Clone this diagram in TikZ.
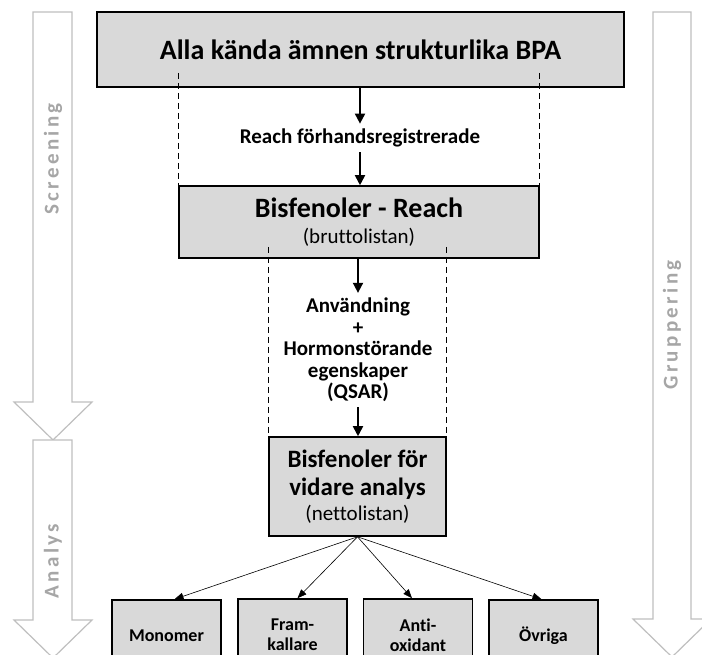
\documentclass[tikz,border=0pt]{standalone}
\usepackage{fontspec}
\setmainfont{Carlito}[Ligatures=NoCommon]
\newfontfamily\phasefont[LetterSpace=16]{Carlito}
\usepackage{tikz}
\usetikzlibrary{arrows.meta}
\definecolor{boxgray}{RGB}{217, 217, 217}
\definecolor{phasegray}{RGB}{191, 191, 191}
\definecolor{phasetext}{RGB}{166, 166, 166}

\begin{document}
\begin{tikzpicture}[x=1pt, y=-1pt,
    box/.style={draw, line width=1.6pt, fill=boxgray, align=center, inner sep=0pt},
    step label/.style={align=center, inner sep=5pt, font={\fontsize{21}{21.5}\selectfont\bfseries}},
    flow/.style={line width=1.8pt, -{Triangle[width=10pt,length=10pt]}},
    split/.style={line width=0.6pt, -{Triangle[width=7pt,length=9pt]}},
    band/.style={line width=1pt, dash pattern=on 6pt off 4pt},
    phase/.style={draw=phasegray, line width=1.2pt, fill=white},
    phase label/.style={rotate=90, text=phasetext, font={\fontsize{21}{21}\phasefont\bfseries}}]
        \useasboundingbox (0,0) rectangle (702,654);
        \clip (0,0) rectangle (702,654);
        % big phase arrows
        \draw [phase] (33,12) -- (72,12) -- (72,402) -- (92,402) -- (53,440) -- (14,402) -- (33,402) -- cycle;
        \draw [phase] (33,440) -- (72,440) -- (72,620) -- (92,620) -- (53,658) -- (14,620) -- (33,620) -- cycle;
        \draw [phase] (653,12) -- (691,12) -- (691,619) -- (711,619) -- (672,657) -- (633,619) -- (653,619) -- cycle;
        \node [phase label] (screening) at (53,159) {Screening};
        \node [phase label] (analys) at (53,561) {Analys};
        \node [phase label] (gruppering) at (672,325) {Gruppering};
        % main boxes
        \node [box, minimum width=527pt, minimum height=75pt, font={\fontsize{28}{30}\selectfont\bfseries}] (alla) at (360.5,49.5) {Alla kända ämnen strukturlika BPA};
        \node [box, minimum width=360pt, minimum height=72pt, font={\fontsize{21}{26}\selectfont}] (brutto) at (359,222)
            {{\fontsize{28}{30}\selectfont\bfseries Bisfenoler - Reach}\\(bruttolistan)};
        \node [box, minimum width=177pt, minimum height=99pt, font={\fontsize{25}{28}\selectfont\bfseries}] (netto) at (357.5,486.5)
            {Bisfenoler för\\vidare analys\\[-3pt]{\fontsize{21}{21}\selectfont\mdseries (nettolistan)}};
        % dashed bands
        \draw [band] ([yshift=15pt]alla.south -| brutto.north west) -- (brutto.north west);
        \draw [band] ([yshift=15pt]alla.south -| brutto.north east) -- (brutto.north east);
        \draw [band] ([yshift=12pt]brutto.south -| netto.north west) -- (netto.north west);
        \draw [band] ([yshift=12pt]brutto.south -| netto.north east) -- (netto.north east);
        % steps
        \node [step label] (reach) at (360,138) {Reach förhandsregistrerade};
        \node [step label] (qsar) at (358,350) {Användning\\+\\Hormonstörande\\egenskaper\\(QSAR)};
        \draw [flow] (alla.south -| reach.north) -- (reach.north);
        \draw [flow] (reach.south) -- (brutto.north -| reach.south);
        \draw [flow] (brutto.south -| qsar.north) -- (qsar.north);
        \draw [flow] (qsar.south) -- (netto.north -| qsar.south);
        % groups
        \begin{scope}[every node/.style={box, minimum width=109pt, minimum height=72pt, font={\fontsize{18}{20}\selectfont\bfseries}}]
        \node (monomer) at (166.5,636) {Monomer};
        \node (framkallare) at (292.5,635) {Fram-\\kallare};
        \node (antioxidant) at (418,635) {Anti-\\oxidant};
        \node (ovriga) at (543.5,636) {Övriga};
        \end{scope}
        \foreach \g/\dx in {monomer/8, framkallare/5, antioxidant/-6, ovriga/-2}
            \draw [split] (netto.south) -- ([xshift=\dx pt]\g.north);
\end{tikzpicture}
\end{document}
